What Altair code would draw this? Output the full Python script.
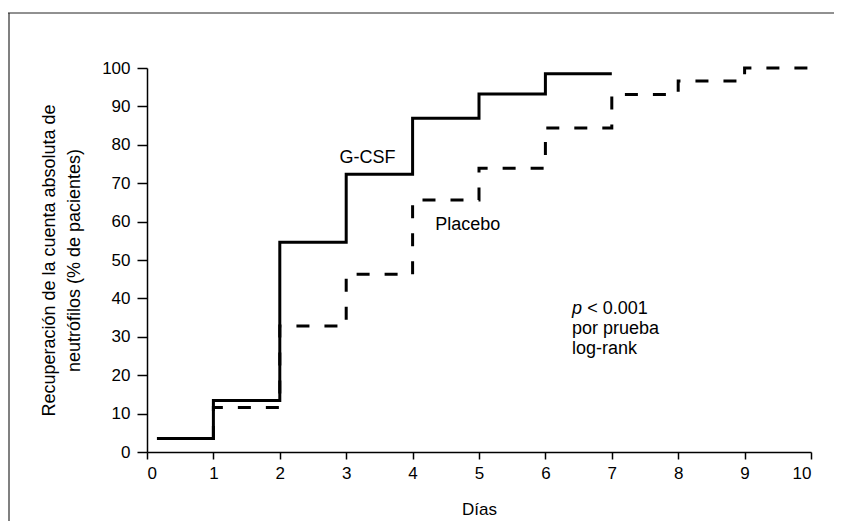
import altair as alt
import pandas as pd

# ---- data ----
days_gcsf = [0.15, 1, 2, 3, 4, 5, 6, 7]
recovery_gcsf = [3.5, 13.4, 54.6, 72.3, 86.9, 93.2, 98.5, 98.5]

days_placebo = [0.15, 1, 2, 3, 4, 5, 6, 7, 8, 9, 10]
recovery_placebo = [3.5, 11.6, 32.8, 46.3, 65.6, 73.9, 84.4, 93.1, 96.6, 100, 100]

x_ticks = list(range(0, 11))
y_ticks = list(range(0, 101, 10))

FONT = "Liberation Sans"

df_g = pd.DataFrame({"dia": days_gcsf, "rec": recovery_gcsf})
df_p = pd.DataFrame({"dia": days_placebo, "rec": recovery_placebo})

x_scale = alt.Scale(domain=[0, 10], nice=False, zero=False)
y_scale = alt.Scale(domain=[0, 100], nice=False)

x_axis = alt.Axis(title="Días", values=x_ticks, tickSize=7, labelPadding=6,
                  titlePadding=20, format="d", titleFontSize=17)
y_axis = alt.Axis(title=["Recuperación de la cuenta absoluta de",
                         "neutrófilos (% de pacientes)"],
                  values=y_ticks, tickSize=10, labelPadding=7,
                  titlePadding=18, titleLineHeight=25, format="d",
                  titleFontSize=18, labelOverlap=False)

placebo = alt.Chart(df_p).mark_line(
    interpolate="step-after", color="black", strokeWidth=3,
    strokeDash=[13, 15], strokeCap="butt"
).encode(x=alt.X("dia:Q", scale=x_scale, axis=x_axis),
         y=alt.Y("rec:Q", scale=y_scale, axis=y_axis))

gcsf = alt.Chart(df_g).mark_line(
    interpolate="step-after", color="black", strokeWidth=3
).encode(x=alt.X("dia:Q", scale=x_scale, axis=x_axis),
         y=alt.Y("rec:Q", scale=y_scale, axis=y_axis))

def label(text, x, y, size=18, style="normal", align="left"):
    return alt.Chart(pd.DataFrame({"t": [text]})).mark_text(
        font=FONT, fontSize=size, fontStyle=style, align=align,
        baseline="middle", color="black"
    ).encode(x=alt.X(datum=x, scale=x_scale, axis=x_axis),
             y=alt.Y(datum=y, scale=y_scale, axis=y_axis),
             text="t:N")

lab_g = label("G-CSF", 3.32, 76.5, align="center")
lab_p = label("Placebo", 4.34, 59)
lab_pv = label("p", 6.4, 37.3, style="italic")
lab_pv2 = label("< 0.001", 6.63, 37.3)
lab_por = label("por  prueba", 6.4, 32)
lab_lr = label("log-rank", 6.4, 26.8)

# outer frame (decorative)
frame_left = alt.Chart(pd.DataFrame({"a": [0]})).mark_rule(
    color="#808080", strokeWidth=2
).encode(x=alt.value(-138), y=alt.value(-55), y2=alt.value(520))
frame_top = alt.Chart(pd.DataFrame({"a": [0]})).mark_rule(
    color="#222222", strokeWidth=1
).encode(x=alt.value(-139), x2=alt.value(720), y=alt.value(-55))

chart = alt.layer(
    frame_left, frame_top, placebo, gcsf,
    lab_g, lab_p, lab_pv, lab_pv2, lab_por, lab_lr
).properties(
    width=664, height=384,
    autosize=alt.AutoSizeParams(type="none"),
    padding={"left": 139, "top": 60, "right": 23, "bottom": 69},
    background="white"
).configure_view(
    stroke=None
).configure_axis(
    grid=False, domainColor="black", tickColor="black", domainWidth=1.5,
    tickWidth=1.5, labelColor="black", titleColor="black",
    labelFont=FONT, titleFont=FONT, labelFontSize=17,
    titleFontWeight="normal"
)

chart.save("out.html", embed_options={"renderer": "svg", "actions": False})
